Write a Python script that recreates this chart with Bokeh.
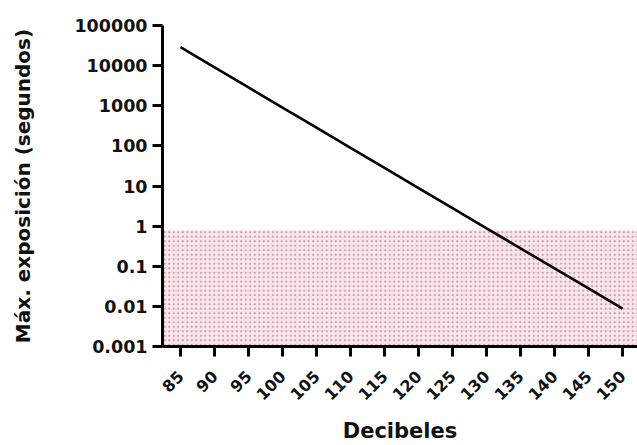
import math
from bokeh.plotting import figure
from bokeh.models import FixedTicker, CustomJSTickFormatter, Range1d
from bokeh.embed import file_html
from bokeh.resources import INLINE

decibeles = [85, 90, 95, 100, 105, 110, 115, 120, 125, 130, 135, 140, 145, 150]
segundos = [28800, 9073, 2858, 900, 284, 89.4, 28.2, 8.9, 2.8, 0.88, 0.28, 0.088, 0.028, 0.0088]
y_ticks = [0.001, 0.01, 0.1, 1, 10, 100, 1000, 10000, 100000]
limite_zona = 0.79
x_min, x_max = 82.35, 152.2
y_min, y_max = 0.001, 100000

p = figure(width=637, height=445, y_axis_type="log",
           x_range=Range1d(x_min, x_max), y_range=Range1d(y_min, y_max),
           output_backend="svg", toolbar_location=None,
           min_border_left=162, min_border_right=0, min_border_top=25, min_border_bottom=99)
p.outline_line_color = None
p.grid.visible = False
p.background_fill_color = "white"
p.border_fill_color = "white"

p.quad(left=[x_min], right=[x_max], bottom=[y_min], top=[limite_zona],
       fill_color="#fce5ea", line_color=None,
       hatch_pattern="dot", hatch_color="#c4a2a8", hatch_scale=4.5, hatch_weight=1.1)

p.line(decibeles, segundos, line_color="black", line_width=2.6)

p.xaxis.ticker = FixedTicker(ticks=decibeles)
p.yaxis.ticker = FixedTicker(ticks=y_ticks)
p.yaxis.formatter = CustomJSTickFormatter(code="""
const e = Math.round(Math.log10(tick));
return e >= 0 ? (10**e).toFixed(0) : (10**e).toFixed(-e);
""")
p.xaxis.major_label_orientation = math.pi / 4

for ax in (p.xaxis, p.yaxis):
    ax.axis_line_width = 3
    ax.axis_line_color = "black"
    ax.major_tick_line_width = 3
    ax.major_tick_line_color = "black"
    ax.major_tick_out = 10
    ax.major_tick_in = 0
    ax.minor_tick_line_color = None
    ax.major_label_text_font = "DejaVu Sans"
    ax.major_label_text_font_style = "bold"
    ax.major_label_text_color = "#111111"
    ax.axis_label_text_font = "DejaVu Sans"
    ax.axis_label_text_font_style = "bold"
    ax.axis_label_text_color = "#111111"

p.yaxis.axis_label_text_font_size = "20px"
p.xaxis.axis_label_text_font_size = "21px"
p.yaxis.major_label_text_font_size = "17.5px"
p.xaxis.major_label_text_font_size = "16px"
p.yaxis.major_label_standoff = 5
p.xaxis.major_label_standoff = 17
p.yaxis.axis_label = "Máx. exposición (segundos)"
p.xaxis.axis_label = "Decibeles"
p.yaxis.axis_label_standoff = 36
p.xaxis.axis_label_standoff = 10

open("out.html", "w").write(file_html(p, INLINE))
